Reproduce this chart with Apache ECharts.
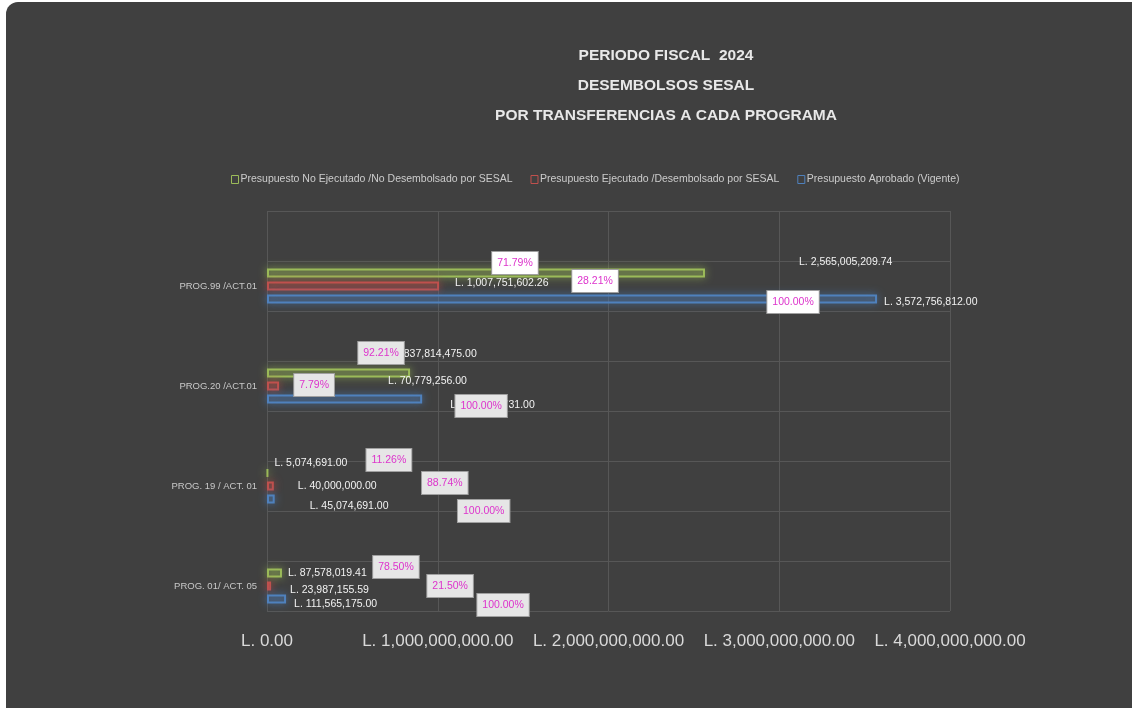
<!DOCTYPE html>
<html>
<head>
<meta charset="utf-8">
<script src="https://cdn.jsdelivr.net/npm/echarts@6/dist/echarts.min.js"></script>
<style>
html,body{margin:0;padding:0;background:#ffffff;overflow:hidden;}
#bg{position:absolute;left:6px;top:2px;width:1160px;height:740px;background:#404040;border-radius:12px;}
#chart{position:absolute;left:0;top:0;width:1132px;height:708px;}
</style>
</head>
<body>
<div id="bg"></div>
<div id="chart"></div>
<script>
// ---- data ----
const categories = ['PROG.99 /ACT.01', 'PROG.20 /ACT.01', 'PROG. 19 / ACT. 01', 'PROG. 01/ ACT. 05'];
const seriesNames = [
  'Presupuesto No Ejecutado /No Desembolsado por SESAL',
  'Presupuesto Ejecutado /Desembolsado por SESAL',
  'Presupuesto Aprobado (Vigente)'
];
const noEjecutado = [2565005209.74, 837814475.00, 5074691.00, 87578019.41];
const ejecutado   = [1007751602.26, 70779256.00, 40000000.00, 23987155.59];
const aprobado    = [3572756812.00, 908593731.00, 45074691.00, 111565175.00];
const pctNoEjecutado = ['71.79%', '92.21%', '11.26%', '78.50%'];
const pctEjecutado   = ['28.21%', '7.79%', '88.74%', '21.50%'];
const pctAprobado    = ['100.00%', '100.00%', '100.00%', '100.00%'];
const xTicks = [0, 1000000000, 2000000000, 3000000000, 4000000000];

// ---- layout (label offsets, px) ----
const valOffsets = [
  [[89,-11],[-23,-19],[1,-10],[1,0]],
  [[11,-3],[104,-5],[19,0],[14,4]],
  [[2,3],[23,6],[30,7],[3,5]]
];
const pctOffsets = [
  [[-190,-23],[-29,-33],[121,-26],[114,-19]],
  [[156,-5],[35,-1],[171,-3],[179,0]],
  [[-84,16],[59,20],[209,25],[217,19]]
];
const colors = ['#9bbb59', '#c0504d', '#4f81bd'];
const fills = ['rgba(155,187,89,0.15)', 'rgba(192,80,77,0.15)', 'rgba(79,129,189,0.15)'];
const FONT = '"Liberation Sans", Arial, sans-serif';

function fmt(v) {
  const s = v.toFixed(2);
  const [i, d] = s.split('.');
  return 'L. ' + i.replace(/\B(?=(\d{3})+(?!\d))/g, ',') + '.' + d;
}

// 8 slots: blank slot above each category
const slotLabels = [];
categories.forEach(c => { slotLabels.push(''); slotLabels.push(c); });
const slotIdx = i => 2 * i + 1;

const valueSets = [noEjecutado, ejecutado, aprobado];
const pctSets = [pctNoEjecutado, pctEjecutado, pctAprobado];

const series = [];
valueSets.forEach((vals, s) => {
  const data = [];
  vals.forEach((v, i) => {
    data.push(null);
    data.push({
      value: v,
      label: { offset: valOffsets[s][i] }
    });
  });
  series.push({
    name: seriesNames[s],
    type: 'bar',
    barWidth: 9,
    barGap: '44%',
    data: data,
    itemStyle: {
      color: fills[s], borderColor: colors[s], borderWidth: 2,
      shadowBlur: 9, shadowColor: colors[s]
    },
    label: {
      show: true, position: 'right', distance: 5,
      color: '#f2f2f2', fontFamily: FONT, fontSize: 10.5,
      formatter: p => fmt(p.value)
    },
    z: 2
  });
});
valueSets.forEach((vals, s) => {
  series.push({
    type: 'scatter',
    symbolSize: 0,
    silent: true,
    z: 10,
    itemStyle: { opacity: 1 },
    data: vals.map((v, i) => ({
      value: [v, slotIdx(i)],
      label: {
        offset: pctOffsets[s][i],
        formatter: pctSets[s][i],
        backgroundColor: i === 0 ? '#ffffff' : '#e6e6e6'
      }
    })),
    label: {
      show: true, position: 'inside', opacity: 1,
      color: '#dd33cc', fontFamily: FONT, fontSize: 10.5,
      padding: [6, 5, 5, 5],
      borderColor: '#a0a0a0', borderWidth: 1
    }
  });
});

const chart = echarts.init(document.getElementById('chart'), null, { renderer: 'canvas' });
chart.setOption({
  backgroundColor: 'transparent',
  animation: false,
  title: {
    text: 'PERIODO FISCAL  2024\nDESEMBOLSOS SESAL\nPOR TRANSFERENCIAS A CADA PROGRAMA',
    left: 661, top: 36, textAlign: 'center',
    textStyle: { color: '#e8e8e8', fontFamily: FONT, fontSize: 15.5, fontWeight: 'bold', lineHeight: 30 }
  },
  legend: {
    top: 169, left: 226,
    itemWidth: 7, itemHeight: 8, itemGap: 18,
    icon: 'rect',
    textStyle: { color: '#cccccc', fontFamily: FONT, fontSize: 10.5, padding: [0, 0, 0, -3] },
    data: seriesNames.map((n, s) => ({
      name: n,
      itemStyle: { color: 'transparent', borderColor: colors[s], borderWidth: 1, shadowBlur: 0 }
    }))
  },
  grid: { left: 267, right: 182, top: 211, bottom: 97, containLabel: false },
  xAxis: {
    type: 'value', min: 0, max: 4000000000, interval: 1000000000,
    axisLine: { show: false }, axisTick: { show: false },
    splitLine: { show: true, lineStyle: { color: '#575757', width: 1 } },
    axisLabel: {
      color: '#d9d9d9', fontFamily: FONT, fontSize: 17, margin: 22,
      formatter: v => fmt(v)
    }
  },
  yAxis: {
    type: 'category', inverse: true, data: slotLabels,
    axisLine: { show: false }, axisTick: { show: false },
    splitLine: { show: true, lineStyle: { color: '#575757', width: 1 } },
    axisLabel: { color: '#c8c8c8', fontFamily: FONT, fontSize: 9.5, margin: 10, interval: 0 }
  },
  series: series
});
</script>
</body>
</html>
